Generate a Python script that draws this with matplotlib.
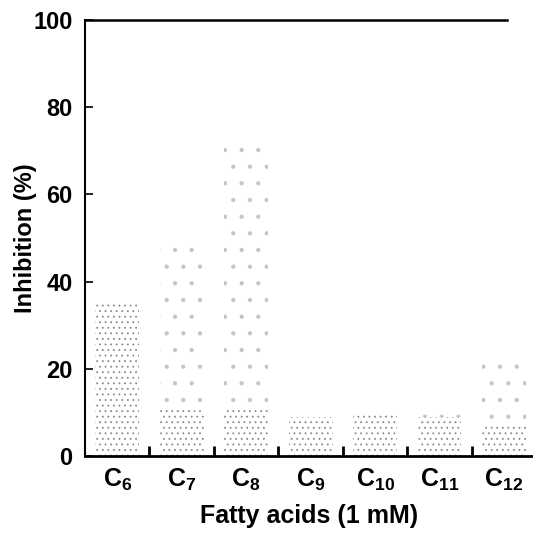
import matplotlib.pyplot as plt

plt.rcParams['font.family'] = ['Liberation Sans', 'DejaVu Sans']
plt.rcParams['font.weight'] = 'bold'
plt.rcParams['mathtext.fontset'] = 'custom'
plt.rcParams['mathtext.rm'] = 'Liberation Sans:bold'
plt.rcParams['mathtext.bf'] = 'Liberation Sans:bold'
plt.rcParams['mathtext.default'] = 'bf'
plt.rcParams['hatch.linewidth'] = 0.6

# data
acids = ['C$_{6}$', 'C$_{7}$', 'C$_{8}$', 'C$_{9}$', 'C$_{10}$', 'C$_{11}$', 'C$_{12}$']
total = [35, 48, 72, 9, 10, 10, 23]      # sparse stippled part
lower = [35, 11, 11, 9, 10, 9, 7]        # dense stippled part

fig = plt.figure(figsize=(5.33, 5.33), dpi=100)
ax = fig.add_axes([85/533, 77/533, 448/533, 436/533])

x = list(range(len(acids)))
ax.bar(x, total, width=0.68, color='white', edgecolor='#c4c4c4', hatch='.', linewidth=0)
ax.bar(x, lower, width=0.68, color='white', edgecolor='#8a8a8a', hatch='...', linewidth=0)

ax.set_xlim(-0.5, 6.45)
ax.set_ylim(0, 100)
ax.plot([-0.5, 6.05], [100, 100], color='black', lw=1.8, clip_on=False)

ax.spines['top'].set_visible(False)
ax.spines['right'].set_visible(False)
ax.spines['left'].set_linewidth(1.5)
ax.spines['bottom'].set_linewidth(2)

ax.set_xticks(x)
ax.set_xticklabels(acids, fontsize=18)
ax.tick_params(axis='x', length=0, pad=8)
ax.set_xticks([i + 0.5 for i in range(6)], minor=True)
ax.tick_params(axis='x', which='minor', direction='in', length=7, width=2)

ax.set_yticks([0, 20, 40, 60, 80, 100])
ax.tick_params(axis='y', direction='in', length=6, width=1.2, labelsize=17, pad=9)
for lab in ax.get_yticklabels():
    lab.set_fontweight('bold')

ax.set_xlabel('Fatty acids (1 mM)', fontsize=18, fontweight='bold', labelpad=8)
ax.set_ylabel('Inhibition (%)', fontsize=17, fontweight='bold')
ax.yaxis.set_label_coords(-0.107, 0.5)

plt.savefig('out.png', dpi=100)
